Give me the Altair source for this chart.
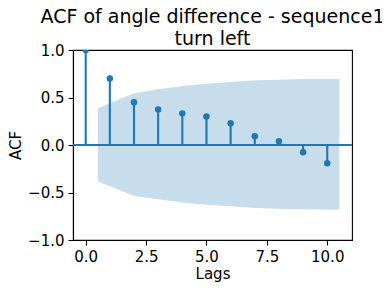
import altair as alt
import pandas as pd

lags = list(range(11))
acf = [1.0, 0.70, 0.45, 0.375, 0.333, 0.30, 0.228, 0.091, 0.039, -0.077, -0.193]
band_x = [0.5, 2, 3, 4, 5, 6, 7, 8, 9, 10.5]
band_hi = [0.388, 0.544, 0.586, 0.621, 0.646, 0.663, 0.681, 0.688, 0.695, 0.695]
band_lo = [-0.382, -0.537, -0.572, -0.604, -0.628, -0.646, -0.663, -0.670, -0.677, -0.681]
x_ticks = [0, 2.5, 5, 7.5, 10]
y_ticks = [-1, -0.5, 0, 0.5, 1]
title_lines = ["ACF of angle difference - sequence1", "turn left"]

BLUE = "#1f77b4"
W, H = 279, 190
FONT = "DejaVu Sans"

df = pd.DataFrame({"lag": lags, "acf": acf, "zero": [0.0] * len(lags)})
band = pd.DataFrame({"x": band_x, "hi": band_hi, "lo": band_lo})

xs = alt.Scale(domain=[-0.525, 11.025], nice=False, zero=False)
ys = alt.Scale(domain=[-1, 1], nice=False)

xaxis = alt.Axis(values=x_ticks, format=".1f", title="Lags", grid=False)
yaxis = alt.Axis(values=y_ticks, format=".1f", title="ACF", grid=False)

area = alt.Chart(band).mark_area(color=BLUE, opacity=0.25, clip=True).encode(
    x=alt.X("x:Q", scale=xs, axis=xaxis),
    y=alt.Y("hi:Q", scale=ys, axis=yaxis),
    y2="lo:Q",
)

stems = alt.Chart(df).mark_rule(color=BLUE, strokeWidth=2.1, clip=True).encode(
    x=alt.X("lag:Q", scale=xs),
    y=alt.Y("zero:Q", scale=ys),
    y2="acf:Q",
)

zero = alt.Chart(df).mark_rule(color=BLUE, strokeWidth=2.1).encode(
    x=alt.value(0), x2=alt.value(W), y=alt.datum(0, scale=ys)
)

pts = alt.Chart(df).mark_circle(color=BLUE, opacity=1, size=42, clip=True).encode(
    x=alt.X("lag:Q", scale=xs),
    y=alt.Y("acf:Q", scale=ys),
)

chart = (
    alt.layer(area, stems, zero, pts)
    .properties(
        width=W,
        height=H,
        title=alt.TitleParams(text=title_lines, fontSize=19, font=FONT, fontWeight="normal",
                              color="black", anchor="middle", lineHeight=22, offset=-6),
        autosize=alt.AutoSizeParams(type="none"),
        padding={"left": 65, "top": 42, "right": 30, "bottom": 44},
    )
    .configure_view(stroke="black", strokeWidth=1.1)
    .configure_axis(
        labelFont=FONT, titleFont=FONT, labelFontSize=15, titleFontSize=15,
        titleFontWeight="normal", labelColor="black", titleColor="black",
        domainColor="black", tickColor="black", domainWidth=1.1, tickWidth=1.1,
        tickSize=5, labelPadding=4,
    )
    .configure_axisX(titlePadding=2)
    .configure_axisY(titlePadding=4)
)

chart.save("out.html", embed_options={"renderer": "svg", "actions": False})
